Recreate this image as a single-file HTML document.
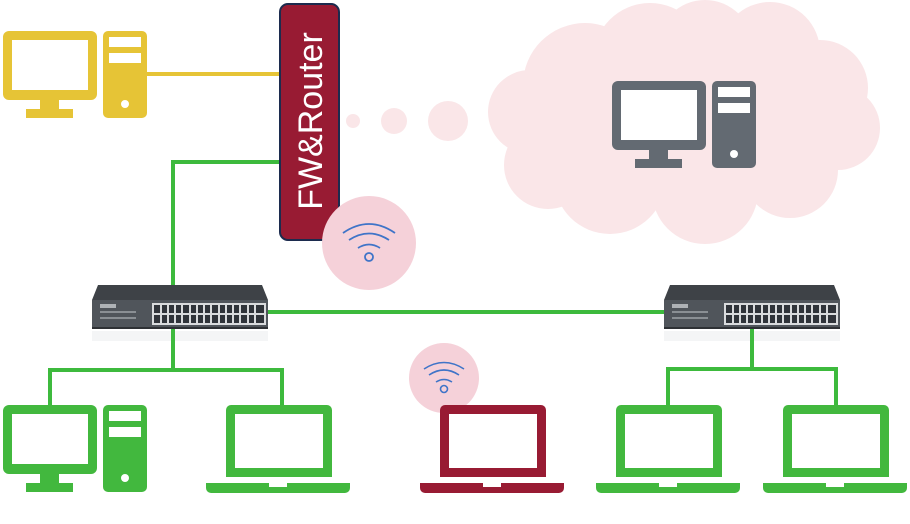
<!DOCTYPE html>
<html><head><meta charset="utf-8"><style>
html,body{margin:0;padding:0;background:#fff;}
svg{display:block;}
</style></head><body>
<svg width="910" height="524" viewBox="0 0 910 524" xmlns="http://www.w3.org/2000/svg">
<defs>
<g id="desk">
  <rect x="0" y="0" width="94" height="69" rx="6"/>
  <rect x="37" y="68" width="19" height="12"/>
  <rect x="23" y="78" width="47" height="9"/>
  <rect x="100" y="0" width="44" height="87" rx="5"/>
</g>
<g id="deskHoles" fill="#fff">
  <rect x="9" y="9" width="76" height="50"/>
  <rect x="106" y="6" width="32" height="10"/>
  <rect x="106" y="22" width="32" height="10"/>
  <circle cx="122" cy="73" r="4"/>
</g>
<g id="laptop">
  <path d="M20 5 a5 5 0 0 1 5 -5 h96 a5 5 0 0 1 5 5 v67 h-106z"/>
  <rect x="29" y="9" width="88" height="54" fill="#fff"/>
  <path d="M0 78 h63 v4 h18 v-4 h63 v5 a5 5 0 0 1 -5 5 h-134 a5 5 0 0 1 -5 -5z"/>
</g>
<g id="switch">
  <path d="M6 0 h164 l6 15 h-176z" fill="#3e4247"/>
  <rect x="0" y="15" width="176" height="28" fill="#50555b"/>
  <rect x="0" y="42" width="176" height="2" fill="#2e3135"/>
  <rect x="60" y="18" width="114" height="22" fill="#d9dbdd"/>
  <g fill="#30343a">
    <rect x="62" y="20" width="110" height="8"/>
    <rect x="62" y="30" width="110" height="8"/>
  </g>
  <g stroke="#d9dbdd" stroke-width="2">
    <path d="M69 20v18M76 20v18M83 20v18M90 20v18M98 20v18M105 20v18M112 20v18M119 20v18M127 20v18M134 20v18M141 20v18M148 20v18M156 20v18M163 20v18"/>
  </g>
  <rect x="8" y="19" width="16" height="4" fill="#aeb2b6"/>
  <rect x="8" y="26" width="36" height="2" fill="#8a8f94"/>
  <rect x="8" y="32" width="36" height="2" fill="#8a8f94"/>
  <rect x="0" y="46" width="176" height="10" fill="#eceef0" opacity="0.6"/>
</g>
</defs>

<!-- cloud -->
<g fill="#fae6e8">
  <circle cx="530" cy="112" r="42"/>
  <circle cx="548" cy="165" r="44"/>
  <circle cx="585" cy="85" r="62"/>
  <circle cx="650" cy="60" r="57"/>
  <circle cx="705" cy="48" r="48"/>
  <circle cx="770" cy="52" r="50"/>
  <circle cx="820" cy="88" r="48"/>
  <circle cx="838" cy="128" r="42"/>
  <circle cx="790" cy="170" r="48"/>
  <circle cx="705" cy="191" r="53"/>
  <circle cx="610" cy="178" r="56"/>
  <ellipse cx="690" cy="125" rx="150" ry="80"/>
  <circle cx="353" cy="121" r="7"/>
  <circle cx="394" cy="121" r="13"/>
  <circle cx="448" cy="121" r="20"/>
</g>
<g fill="#636a72" transform="translate(612,81)"><use href="#desk"/></g>
<g fill="#fae6e8" transform="translate(612,81)"><use href="#deskHoles"/></g>

<!-- lines -->
<g stroke="#3dba3d" stroke-width="4" fill="none">
  <path d="M173 312 V162 H281"/>
  <path d="M266 312 H666"/>
</g>
<path d="M147 74 H281" stroke="#e6c436" stroke-width="4"/>

<!-- router -->
<rect x="280" y="4" width="59" height="236" rx="8" fill="#981b33" stroke="#1c2b4e" stroke-width="2"/>
<text transform="translate(322,121) rotate(-90)" text-anchor="middle" font-family="Liberation Sans, sans-serif" font-size="34" fill="#fff">FW&amp;Router</text>

<!-- wifi circles -->
<circle cx="369" cy="243" r="47" fill="#f5d1d9"/>
<g stroke="#3f74c8" stroke-width="1.8" fill="none">
  <path d="M343 233 Q369 215 395 233"/>
  <path d="M349 240 Q369 227 389 240"/>
  <path d="M358 248 Q369 241 380 248"/>
  <circle cx="369" cy="257" r="4"/>
</g>
<circle cx="444" cy="378" r="35" fill="#f5d1d9"/>
<g stroke="#3f74c8" stroke-width="1.6" fill="none">
  <path d="M424 369 Q444 356 464 369"/>
  <path d="M429 375 Q444 365 459 375"/>
  <path d="M436 382 Q444 377 452 382"/>
  <circle cx="444" cy="389" r="3.5"/>
</g>

<!-- switches -->
<g transform="translate(92,285)"><use href="#switch"/></g>
<g transform="translate(664,285)"><use href="#switch"/></g>

<g stroke="#3dba3d" stroke-width="4" fill="none">
  <path d="M173 329 V370 M50 405 V370 H282 V405"/>
  <path d="M752 329 V369 M668 405 V369 H836 V405"/>
</g>

<!-- yellow desktop -->
<g fill="#e6c436" transform="translate(3,31)"><use href="#desk"/></g>
<g transform="translate(3,31)"><use href="#deskHoles"/></g>

<!-- green desktop -->
<g fill="#42b83e" transform="translate(3,405)"><use href="#desk"/></g>
<g transform="translate(3,405)"><use href="#deskHoles"/></g>

<!-- laptops -->
<g fill="#42b83e" transform="translate(206,405)"><use href="#laptop"/></g>
<g fill="#981b33" transform="translate(420,405)"><use href="#laptop"/></g>
<g fill="#42b83e" transform="translate(596,405)"><use href="#laptop"/></g>
<g fill="#42b83e" transform="translate(763,405)"><use href="#laptop"/></g>
</svg>
</body></html>
